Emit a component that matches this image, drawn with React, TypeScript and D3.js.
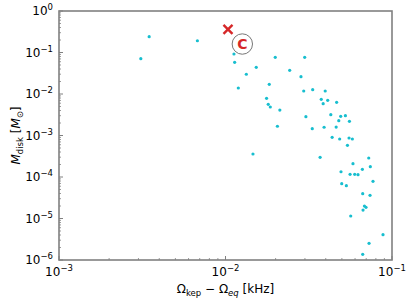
import React from "react";
import * as d3 from "d3";

// Omega_kep - Omega_eq [kHz]
const xValues = [
  0.00348, 0.0031, 0.00678, 0.01124, 0.01135, 0.01334, 0.0153, 0.0199, 0.01194, 0.01832,
  0.01765, 0.01806, 0.01858, 0.0212, 0.0205, 0.01462, 0.0299, 0.0243, 0.0284, 0.0295,
  0.0334, 0.0397, 0.0376, 0.0411, 0.0386, 0.0465, 0.0304, 0.0429, 0.0492, 0.0525,
  0.0479, 0.0555, 0.0332, 0.0391, 0.0462, 0.0437, 0.0485, 0.0552, 0.0578, 0.054,
  0.037, 0.0725, 0.0583, 0.0741, 0.0664, 0.0494, 0.056, 0.0597, 0.0625, 0.0769,
  0.0499, 0.0532, 0.0667, 0.0738, 0.0683, 0.0698, 0.067, 0.0565, 0.0883, 0.0728,
  0.0667,
];
// M_disk [M_sun]
const yValues = [
  0.24, 0.071, 0.192, 0.092, 0.058, 0.0299, 0.044, 0.0766, 0.01395, 0.01713,
  0.00788, 0.00565, 0.00486, 0.00411, 0.00167, 0.000358, 0.0766, 0.0372, 0.0261, 0.0118,
  0.0127, 0.0118, 0.00745, 0.00705, 0.00584, 0.00631, 0.00284, 0.00317, 0.0029, 0.003,
  0.00227, 0.0022, 0.00146, 0.00158, 0.0016, 0.000905, 0.000824, 0.000871, 0.000824, 0.000581,
  0.000298, 0.000287, 0.000209, 0.000177, 0.000153, 0.000134, 0.000116, 0.000116, 0.000114, 0.0000787,
  0.000069, 0.0000617, 0.0000396, 0.0000362, 0.00002, 0.0000186, 0.000016, 0.0000115, 0.00000407, 0.00000252,
  0.00000137,
];
// special markers
const crossPoint = [0.01035, 0.362];
const circlePoint = [0.01262, 0.16];
const circleLabel = "C";

const xTickExps = [-3, -2, -1];
const yTickExps = [0, -1, -2, -3, -4, -5, -6];

const W = 415;
const H = 305;
const L = 59, R = 392, T = 11, B = 260;
const FONT = "DejaVu Sans, sans-serif";
const AXIS = "#808080";

export default function App() {
  const x = d3.scaleLog().domain([1e-3, 1e-1]).range([L, R]);
  const y = d3.scaleLog().domain([1e-6, 1]).range([B, T]);

  const xMinor: number[] = [];
  for (let e = -3; e < -1; e++) for (let m = 2; m <= 9; m++) xMinor.push(m * Math.pow(10, e));
  const yMinor: number[] = [];
  for (let e = -6; e < 0; e++) for (let m = 2; m <= 9; m++) yMinor.push(m * Math.pow(10, e));

  const cx = x(crossPoint[0]);
  const cy = y(crossPoint[1]);
  const ox = x(circlePoint[0]);
  const oy = y(circlePoint[1]);

  return (
    <svg width={W} height={H} style={{ position: "absolute", left: 0, top: 0, background: "#fff" }} fontFamily={FONT}>
      <rect x={0} y={0} width={W} height={H} fill="#fff" />
      {/* minor ticks */}
      {xMinor.map((v, i) => (
        <line key={"xm" + i} x1={x(v)} x2={x(v)} y1={B} y2={B - 2} stroke={AXIS} strokeWidth={0.8} />
      ))}
      {yMinor.map((v, i) => (
        <line key={"ym" + i} x1={L} x2={L + 2} y1={y(v)} y2={y(v)} stroke={AXIS} strokeWidth={0.8} />
      ))}
      {/* major ticks */}
      {xTickExps.map((e) => (
        <line key={"xM" + e} x1={x(Math.pow(10, e))} x2={x(Math.pow(10, e))} y1={B} y2={B - 4} stroke={AXIS} strokeWidth={1} />
      ))}
      {yTickExps.map((e) => (
        <line key={"yM" + e} x1={L} x2={L + 4} y1={y(Math.pow(10, e))} y2={y(Math.pow(10, e))} stroke={AXIS} strokeWidth={1} />
      ))}
      {/* data */}
      {xValues.map((v, i) => (
        <circle key={"p" + i} cx={x(v)} cy={y(yValues[i])} r={1.6} fill="#17becf" />
      ))}
      {/* spines */}
      <rect x={L} y={T} width={R - L} height={B - T} fill="none" stroke={AXIS} strokeWidth={1.6} />
      {/* cross marker */}
      <g stroke="#d62728" strokeWidth={2.4} strokeLinecap="butt">
        <line x1={cx - 4.5} y1={cy - 4.5} x2={cx + 4.5} y2={cy + 4.5} />
        <line x1={cx - 4.5} y1={cy + 4.5} x2={cx + 4.5} y2={cy - 4.5} />
      </g>
      {/* circled label */}
      <circle cx={ox} cy={oy} r={10.2} fill="#fff" stroke="#777" strokeWidth={1} />
      <text x={ox} y={oy + 5} textAnchor="middle" fontSize={14} fontWeight="bold" fill="#d62728">
        {circleLabel}
      </text>
      {/* x tick labels */}
      {xTickExps.map((e) => (
        <text key={"xl" + e} x={x(Math.pow(10, e))} y={276} textAnchor="middle" fontSize={12} fill="#000">
          10<tspan dy={-5} fontSize={8.5}>{"\u2212" + Math.abs(e)}</tspan>
        </text>
      ))}
      {/* y tick labels */}
      {yTickExps.map((e) => (
        <text key={"yl" + e} x={53} y={y(Math.pow(10, e)) + 4} textAnchor="end" fontSize={12} fill="#000">
          10<tspan dy={-5} fontSize={8.5}>{e === 0 ? "0" : "\u2212" + Math.abs(e)}</tspan>
        </text>
      ))}
      {/* x axis title */}
      <text x={(L + R) / 2} y={293} textAnchor="middle" fontSize={12} fill="#000">
        Ω<tspan dy={3} fontSize={8.5}>kep</tspan>
        <tspan dy={-3}> − Ω</tspan>
        <tspan dy={3} fontSize={8.5} fontStyle="italic">eq</tspan>
        <tspan dy={-3}> [kHz]</tspan>
      </text>
      {/* y axis title */}
      <text transform={`translate(20, ${(T + B) / 2}) rotate(-90)`} textAnchor="middle" fontSize={12} fill="#000">
        <tspan fontStyle="italic">M</tspan>
        <tspan dy={3} fontSize={8.5}>disk</tspan>
        <tspan dy={-3}> [</tspan>
        <tspan fontStyle="italic">M</tspan>
        <tspan dy={3} fontSize={8.5}>⊙</tspan>
        <tspan dy={-3}>]</tspan>
      </text>
    </svg>
  );
}
